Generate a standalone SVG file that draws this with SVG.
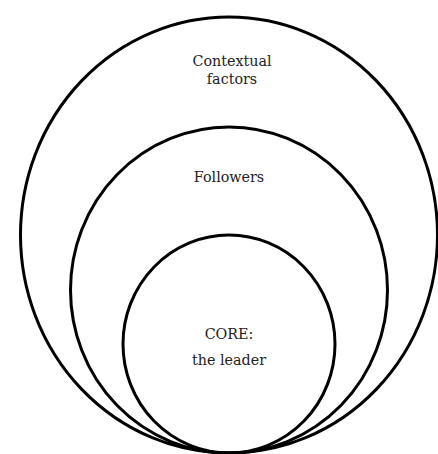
<svg xmlns="http://www.w3.org/2000/svg" width="438" height="454" viewBox="0 0 438 454">
<style>
.ring{fill:none;stroke:#000;stroke-width:3}
.lbl{font-family:"DejaVu Serif","Liberation Serif",serif;font-size:14.3px;fill:#222;text-anchor:middle}
</style>
<rect width="438" height="454" fill="#fff"/>
<g id="outer">
<ellipse class="ring" cx="229" cy="235" rx="208.5" ry="218"/>
<text class="lbl" x="232" y="66">Contextual</text>
<text class="lbl" x="232" y="84">factors</text>
</g>
<g id="middle">
<ellipse class="ring" cx="229" cy="290" rx="158.5" ry="163"/>
<text class="lbl" x="229" y="182">Followers</text>
</g>
<g id="inner">
<ellipse class="ring" cx="229" cy="344" rx="106" ry="109"/>
<text class="lbl" x="229" y="339">CORE:</text>
<text class="lbl" x="229" y="365">the leader</text>
</g>
<g id="connectors"/>
</svg>
